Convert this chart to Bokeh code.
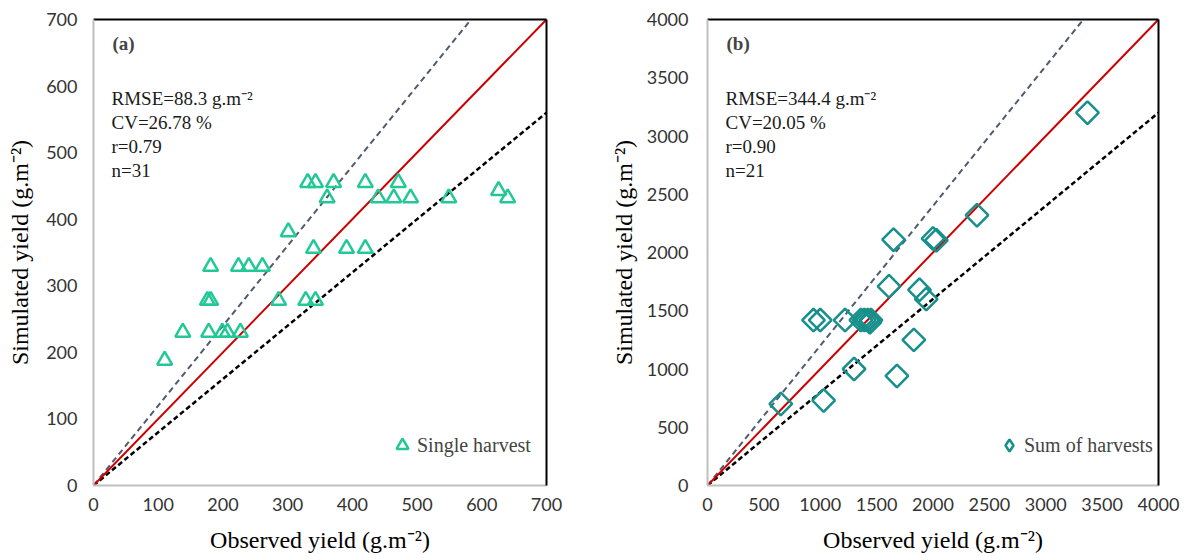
from bokeh.plotting import figure
from bokeh.layouts import row
from bokeh.models import Range1d, LinearAxis, Label, FixedTicker, Legend, LegendItem
from bokeh.embed import file_html
from bokeh.resources import INLINE
import math

# ---------------- data ----------------
# Panel (a): single harvest
obs_a = [331, 343, 371, 420, 471,
         361, 440, 464, 490, 549, 640, 626,
         301,
         340, 391, 420,
         181, 224, 240, 261,
         176, 181, 286, 328, 343,
         138, 178, 199, 207, 227,
         110]
sim_a = [455, 455, 455, 455, 455,
         432, 432, 432, 432, 432, 432, 443,
         381,
         356, 356, 356,
         329, 329, 329, 329,
         278, 278, 278, 278, 278,
         230, 230, 230, 230, 230,
         188]

# Panel (b): sum of harvests
obs_b = [3370, 2390, 1650, 2000, 2030, 1610, 1880, 1940,
         940, 1000, 1220, 1360, 1390, 1420, 1450, 1440,
         1830, 1300, 1680, 650, 1030]
sim_b = [3200, 2320, 2110, 2120, 2105, 1710, 1680, 1600,
         1420, 1420, 1420, 1420, 1420, 1420, 1420, 1400,
         1250, 1000, 940, 700, 730]

ticks_a = [0, 100, 200, 300, 400, 500, 600, 700]
ticks_b = [0, 500, 1000, 1500, 2000, 2500, 3000, 3500, 4000]

max_a = 700
max_b = 4000
slope_upper = 1.2
slope_lower = 0.8

stats_a = ["RMSE=88.3 g.m\u207b\u00b2", "CV=26.78 %", "r=0.79", "n=31"]
stats_b = ["RMSE=344.4 g.m\u207b\u00b2", "CV=20.05 %", "r=0.90", "n=21"]

SERIF = "'Liberation Serif'"
TICKFONT = "Lato"
FRAME_H = 466
HEIGHT = 560


def make_panel(obs, sim, vmax, ticks, tag, stats, legend_text, marker, legend_marker,
               color, width, border_left, border_right, size, angle, tick_standoff_y,
               label_standoff_y, legend_x):
    p = figure(width=width, height=HEIGHT, output_backend="svg", toolbar_location=None,
               x_range=Range1d(0, vmax), y_range=Range1d(0, vmax),
               min_border_left=border_left, min_border_right=border_right,
               min_border_top=19, min_border_bottom=HEIGHT - 19 - FRAME_H)
    p.xgrid.visible = False
    p.ygrid.visible = False
    p.outline_line_color = None
    p.background_fill_color = "white"

    for ax, lab in ((p.xaxis[0], "Observed yield (g.m\u207b\u00b2)"),
                    (p.yaxis[0], "Simulated yield (g.m\u207b\u00b2)")):
        ax.ticker = FixedTicker(ticks=ticks)
        ax.axis_line_color = "#bfbfbf"
        ax.axis_line_width = 2
        ax.major_tick_line_color = None
        ax.minor_tick_line_color = None
        ax.major_tick_out = 0
        ax.minor_tick_out = 0
        ax.major_label_text_font = TICKFONT
        ax.major_label_text_font_size = "18px"
        ax.major_label_text_color = "#333333"
        ax.axis_label = lab
        ax.axis_label_text_font = SERIF
        ax.axis_label_text_font_style = "normal"
        ax.axis_label_text_font_size = "24px"
        ax.axis_label_text_color = "#000000"
    p.xaxis[0].major_label_standoff = 12
    p.xaxis[0].axis_label_standoff = 13
    p.yaxis[0].major_label_standoff = tick_standoff_y
    p.yaxis[0].axis_label_standoff = label_standoff_y

    for loc in ("above", "right"):
        ax = LinearAxis(ticker=FixedTicker(ticks=[]), axis_line_color="black",
                        axis_line_width=2, major_tick_line_color=None,
                        minor_tick_line_color=None, major_label_text_font_size="0px",
                        major_label_standoff=0, major_tick_out=0, minor_tick_out=0)
        p.add_layout(ax, loc)

    # reference lines
    p.line([0, vmax / slope_upper], [0, vmax], line_color="#4f5b6e", line_width=2,
           line_dash="6 4")
    p.line([0, vmax], [0, vmax * slope_lower], line_color="#000000", line_width=2.5,
           line_dash="5 3")
    p.line([0, vmax], [0, vmax], line_color="#cc0000", line_width=2)

    r = p.scatter(obs, sim, marker=marker, size=size, angle=angle, fill_color=None,
                  line_color=color, line_width=2.5)
    if legend_marker != marker:
        # zero-size twin used only for the legend swatch
        r = p.scatter(obs, sim, marker=legend_marker, size=0, fill_color=None,
                      line_color=color, line_width=2.5)

    p.add_layout(Label(x=19, y=FRAME_H - 24, x_units="screen", y_units="screen",
                       text=tag, text_font=SERIF, text_font_style="bold",
                       text_font_size="19px", text_baseline="middle"))
    for i, s in enumerate(stats):
        p.add_layout(Label(x=18, y=FRAME_H - 79 - 24 * i, x_units="screen",
                           y_units="screen", text=s, text_font=SERIF,
                           text_font_size="19px", text_baseline="middle",
                           text_color="#1a1a1a"))

    leg = Legend(items=[LegendItem(label=legend_text, renderers=[r])],
                 location=(legend_x, 22), border_line_color=None,
                 background_fill_alpha=0, label_text_font=SERIF,
                 label_text_font_size="20px", glyph_width=30, glyph_height=36,
                 label_standoff=0, margin=0, padding=6, spacing=0,
                 label_height=20)
    p.add_layout(leg)
    return p


p1 = make_panel(obs_a, sim_a, max_a, ticks_a, "(a)", stats_a, "Single harvest",
                "triangle", "triangle", "#22c997", 600, 93, 54, 15, 0, 16, 10, 294)
p2 = make_panel(obs_b, sim_b, max_b, ticks_b, "(b)", stats_b, "Sum of harvests",
                "square", "diamond", "#17908c", 584, 107, 26, 16, math.pi / 4, 19, 7, 287)

layout = row(p1, p2)
open("out.html", "w").write(file_html(layout, INLINE))
